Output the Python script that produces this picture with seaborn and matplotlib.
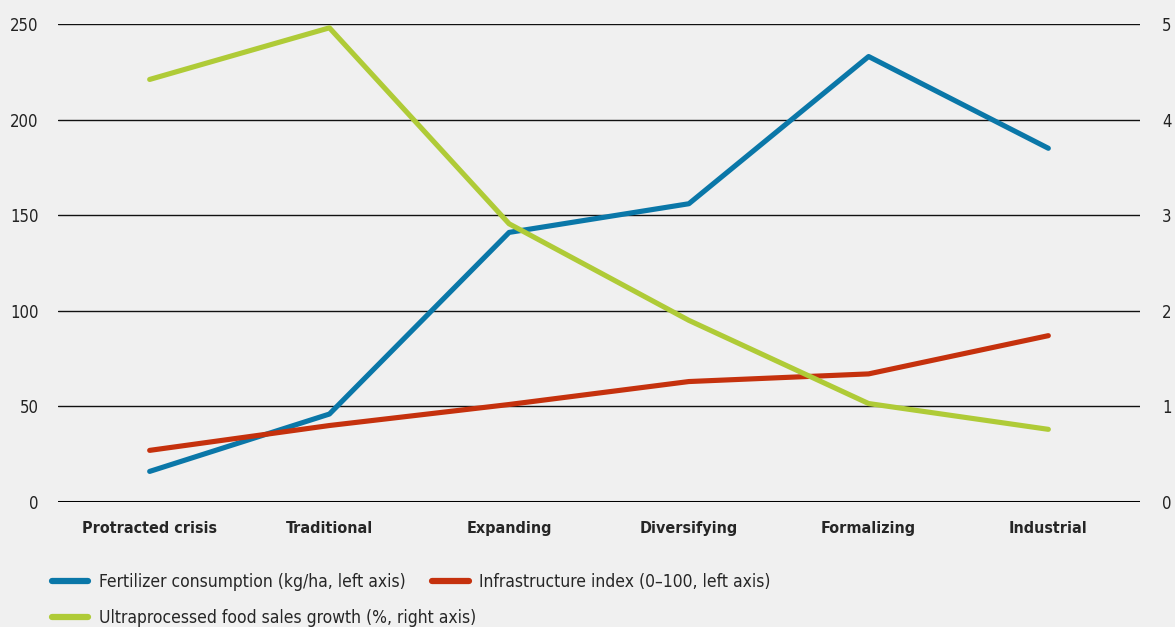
import matplotlib
matplotlib.use("Agg")
import matplotlib.pyplot as plt
import pandas as pd
import seaborn as sns

# Data
stages = ["Protracted crisis", "Traditional", "Expanding", "Diversifying", "Formalizing", "Industrial"]
fertilizer = [16, 46, 141, 156, 233, 185]      # kg/ha, left axis
infrastructure = [27, 40, 51, 63, 67, 87]      # index 0-100, left axis
upf_growth = [4.42, 4.96, 2.91, 1.90, 1.03, 0.76]  # %, right axis

left_ticks = [0, 50, 100, 150, 200, 250]
right_ticks = [0, 1, 2, 3, 4, 5]

BLUE = "#0a77a8"
RED = "#c5310d"
GREEN = "#afcb37"
BG = "#f0f0f0"

df = pd.DataFrame({"stage": stages, "fert": fertilizer,
                   "infra": infrastructure, "upf": upf_growth})

sns.set_style("white")
plt.rcParams["font.family"] = ["DejaVu Sans"]
plt.rcParams["font.stretch"] = "condensed"

fig = plt.figure(figsize=(11.75, 6.27), dpi=100, facecolor=BG)
ax = fig.add_axes([58 / 1175, 1 - 502 / 627, (1140 - 58) / 1175, (502 - 24) / 627])
ax.set_facecolor(BG)
ax2 = ax.twinx()

lw = 3.7
sns.lineplot(data=df, x="stage", y="fert", ax=ax, color=BLUE, lw=lw,
             solid_capstyle="round", clip_on=False, zorder=3,
             label="Fertilizer consumption (kg/ha, left axis)", legend=False)
sns.lineplot(data=df, x="stage", y="infra", ax=ax, color=RED, lw=lw,
             solid_capstyle="round", clip_on=False, zorder=3,
             label="Infrastructure index (0\u2013100, left axis)", legend=False)
sns.lineplot(data=df, x="stage", y="upf", ax=ax2, color=GREEN, lw=lw,
             solid_capstyle="round", clip_on=False, zorder=3,
             label="Ultraprocessed food sales growth (%, right axis)", legend=False)

ax.set_xlim(-0.51, 5.51)
ax.set_ylim(0, 250)
ax2.set_ylim(0, 5)
ax.set_yticks(left_ticks)
ax2.set_yticks(right_ticks)

# gridlines
for t in left_ticks[1:]:
    ax.axhline(t, color="#111111", lw=1.0, zorder=1)
ax.axhline(0, color="black", lw=2.2, zorder=2)

for a in (ax, ax2):
    for s in a.spines.values():
        s.set_visible(False)
    a.set_xlabel("")
    a.set_ylabel("")

ax.tick_params(axis="y", length=0, pad=14, labelsize=12, labelcolor="#222222")
ax2.tick_params(axis="y", length=0, pad=16, labelsize=12, labelcolor="#222222")
ax.tick_params(axis="x", length=0, pad=14, labelsize=11.5)
for lab in ax.get_xticklabels():
    lab.set_fontweight("bold")

h1, l1 = ax.get_legend_handles_labels()
h2, l2 = ax2.get_legend_handles_labels()
leg_kw = dict(loc="center left", frameon=False, fontsize=12.5, handlelength=2.1,
              handletextpad=0.58, columnspacing=1.55, borderaxespad=0, borderpad=0)
leg1 = fig.legend(h1, l1, ncol=2, bbox_to_anchor=(52 / 1175, 1 - 582 / 627), **leg_kw)
leg2 = fig.legend(h2, l2, ncol=1, bbox_to_anchor=(52 / 1175, 1 - 618 / 627), **leg_kw)
for leg in (leg1, leg2):
    for line in leg.get_lines():
        line.set_linewidth(4.5)
        line.set_solid_capstyle("round")

fig.savefig("out.png", dpi=100, facecolor=BG)
